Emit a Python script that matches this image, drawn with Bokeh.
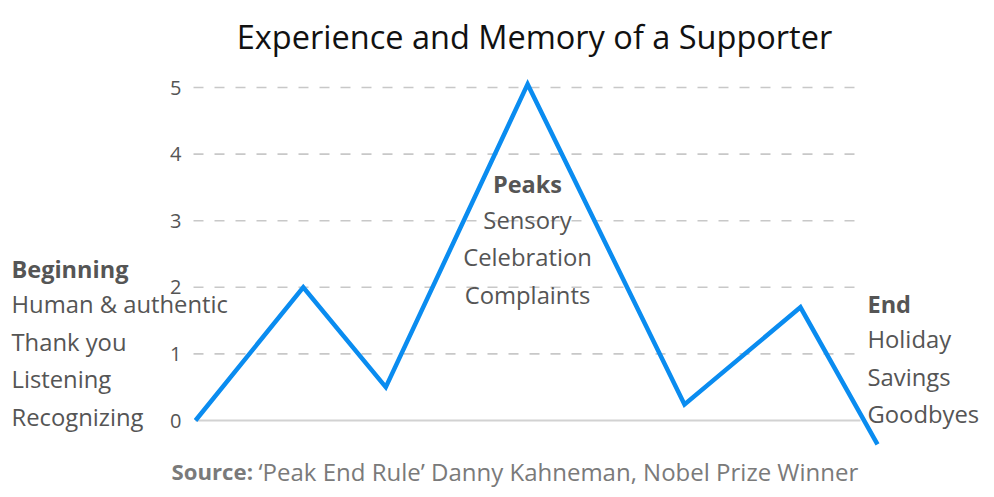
from bokeh.plotting import figure
from bokeh.models import Range1d, Label, FixedTicker, ColumnDataSource
from bokeh.embed import file_html
from bokeh.resources import INLINE

# ---- data ----
stage_x = [0.0, 1.58, 2.79, 4.87, 7.17, 8.87, 10.0]
experience = [0.0, 2.0, 0.5, 5.05, 0.24, 1.7, -0.36]
y_ticks = [0, 1, 2, 3, 4, 5]

title_text = "Experience and Memory of a Supporter"
begin_head = "Beginning"
begin_items = ["Human & authentic", "Thank you", "Listening", "Recognizing"]
peak_head = "Peaks"
peak_items = ["Sensory", "Celebration", "Complaints"]
end_head = "End"
end_items = ["Holiday", "Savings", "Goodbyes"]
source_head = "Source:"
source_text = "\u2018Peak End Rule\u2019 Danny Kahneman, Nobel Prize Winner"

FONT = "Open Sans"
TXT = "#555555"

W, H = 992, 495
X0, XS = 195.0, 68.2   # layout: canvas px of x=0, px per unit
Y0, YS = 420.0, 66.6   # layout: canvas px of y=0, px per unit


def dx(px):
    return (px - X0) / XS


def dy(py):
    return (Y0 - py) / YS


p = figure(width=W, height=H, output_backend="svg", toolbar_location=None,
           x_range=Range1d(dx(0), dx(W)), y_range=Range1d(dy(H), dy(0)),
           min_border=0, min_border_left=0, min_border_right=0,
           min_border_top=0, min_border_bottom=0)
p.outline_line_color = None
p.background_fill_color = "white"
p.border_fill_color = "white"
p.xaxis.visible = False
p.xgrid.visible = False
p.ygrid.visible = False

# horizontal guide lines at the tick values (limited extent)
grid_y = y_ticks[1:]
p.segment(x0=[dx(193)] * len(grid_y), x1=[dx(861)] * len(grid_y), y0=grid_y, y1=grid_y,
          line_color="#c8c8c8", line_width=1.6, line_dash="10 11")
p.segment(x0=[dx(195)], x1=[dx(860)], y0=y_ticks[:1], y1=y_ticks[:1],
          line_color="#d2d2d2", line_width=2)

yax = p.yaxis[0]
yax.fixed_location = dx(200)
yax.ticker = FixedTicker(ticks=y_ticks)
yax.axis_line_color = None
yax.major_tick_line_color = None
yax.minor_tick_line_color = None
yax.major_label_text_font = FONT
yax.major_label_text_font_size = "20px"
yax.major_label_text_color = TXT
yax.major_label_standoff = 13

src = ColumnDataSource(dict(x=stage_x, y=experience))
p.line("x", "y", source=src, line_color="#0a8cf0", line_width=4.5, line_join="miter")

p.add_layout(Label(x=dx(534), y=dy(36), text=title_text, text_font=FONT,
                   text_font_size="32.5px", text_color="#111111",
                   text_align="center", text_baseline="middle"))


def block(px, py0, head, items, align):
    p.add_layout(Label(x=dx(px), y=dy(py0), text=head, text_font=FONT,
                       text_font_size="23.5px", text_font_style="bold", text_color=TXT,
                       text_align=align, text_baseline="middle"))
    for i, t in enumerate(items):
        p.add_layout(Label(x=dx(px), y=dy(py0 + 35.5 + 37.7 * i), text=t, text_font=FONT,
                           text_font_size="23.8px", text_color=TXT,
                           text_align=align, text_baseline="middle"))


block(11, 268, begin_head, begin_items, "left")
block(527, 183.5, peak_head, peak_items, "center")
block(867, 303, end_head, end_items, "left")

p.add_layout(Label(x=dx(171), y=dy(471), text=source_head, text_font=FONT,
                   text_font_size="22.2px", text_font_style="bold", text_color="#7a7a7a",
                   text_align="left", text_baseline="middle"))
p.add_layout(Label(x=dx(258), y=dy(471), text=source_text, text_font=FONT,
                   text_font_size="24px", text_color="#7a7a7a",
                   text_align="left", text_baseline="middle"))

open("out.html", "w").write(file_html(p, INLINE))
